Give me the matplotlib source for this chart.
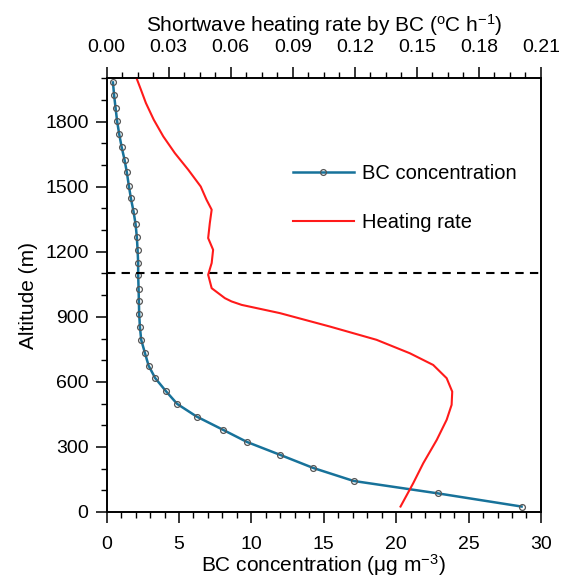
import matplotlib
matplotlib.use("Agg")
import matplotlib.pyplot as plt
from matplotlib.ticker import MultipleLocator

plt.rcParams['font.family'] = ['Liberation Sans', 'DejaVu Sans']
plt.rcParams['mathtext.fontset'] = 'custom'
plt.rcParams['mathtext.rm'] = 'Liberation Sans'

# BC concentration profile (ug m-3) vs altitude (m)
bc_alt = [25, 86, 143, 203, 263, 323, 380, 440, 498, 557, 617, 675, 735, 794,
          854, 914, 972, 1030, 1094, 1150, 1209, 1268, 1328, 1386, 1446, 1503,
          1566, 1624, 1683, 1743, 1801, 1863, 1921, 1981]
bc_conc = [28.66, 22.86, 17.06, 14.27, 12.0, 9.69, 8.01, 6.22, 4.88, 4.10, 3.36,
           2.90, 2.64, 2.39, 2.30, 2.25, 2.23, 2.21, 2.18, 2.18, 2.14, 2.09, 2.00,
           1.86, 1.68, 1.54, 1.40, 1.24, 1.04, 0.87, 0.73, 0.62, 0.52, 0.44]

# shortwave heating rate by BC (oC h-1) vs altitude (m)
hr_alt = [25, 132, 225, 332, 425, 494, 555, 617, 678, 732, 794, 855, 917, 955,
          971, 986, 1032, 1094, 1148, 1209, 1263, 1332, 1394, 1440, 1501, 1578,
          1655, 1732, 1809, 1886, 1950, 2000]
hr_rate = [0.1421, 0.1482, 0.1531, 0.1596, 0.1644, 0.1668, 0.1671, 0.1644,
           0.1579, 0.1466, 0.1305, 0.1080, 0.0838, 0.0653, 0.0604, 0.0572,
           0.0508, 0.0491, 0.0508, 0.0515, 0.0491, 0.0499, 0.0508, 0.0483,
           0.0455, 0.0395, 0.0330, 0.0274, 0.0228, 0.0190, 0.0165, 0.0145]

pbl_height = 1100

fig = plt.figure(figsize=(5.61, 5.77), dpi=100)
ax = fig.add_axes([0.190, 0.1127, 0.7743, 0.7516])
ax2 = ax.twiny()

l1, = ax.plot(bc_conc, bc_alt, color='#17729a', lw=1.8, marker='o', ms=4.2,
              mfc='none', mec='#555555', mew=0.9, label='BC concentration')
l2, = ax2.plot(hr_rate, hr_alt, color='#ff1a1a', lw=1.5, label='Heating rate')
ax.axhline(pbl_height, color='black', lw=1.5, ls=(0, (4, 3)))

ax.set_xlim(0, 30)
ax.set_ylim(0, 2000)
ax2.set_xlim(0, 0.21)

ax.xaxis.set_major_locator(MultipleLocator(5))
ax.xaxis.set_minor_locator(MultipleLocator(1))
ax.yaxis.set_major_locator(MultipleLocator(300))
ax.yaxis.set_minor_locator(MultipleLocator(100))
ax2.xaxis.set_major_locator(MultipleLocator(0.03))
ax2.xaxis.set_minor_locator(MultipleLocator(0.0075))
ax2.xaxis.set_major_formatter(plt.FormatStrFormatter('%.2f'))

for a in (ax, ax2):
    for s in a.spines.values():
        s.set_linewidth(1.2)
    a.tick_params(which='major', direction='out', length=8, width=1.1, labelsize=14)
    a.tick_params(which='minor', direction='out', length=4.3, width=1.0)
ax.tick_params(which='both', right=False, top=False)
ax2.tick_params(which='both', right=False, left=False, bottom=False,
                labelleft=False, labelright=False)
ax.tick_params(axis='x', which='major', pad=9)
ax.tick_params(axis='y', which='major', pad=5)
ax2.tick_params(axis='x', which='major', pad=8)

ax.set_xlabel(r'BC concentration (μg m$\mathregular{^{-3}}$)', fontsize=15, labelpad=0)
ax.set_ylabel('Altitude (m)', fontsize=15, labelpad=5)
ax2.set_xlabel(r'Shortwave heating rate by BC ($\mathregular{^{o}}$C h$\mathregular{^{-1}}$)',
               fontsize=15, labelpad=5)

ax.legend(handles=[l1, l2], loc='upper left', bbox_to_anchor=(0.388, 0.845),
          frameon=False, fontsize=14.5, handlelength=3.0, labelspacing=1.5,
          handletextpad=0.4)

fig.savefig('out.png', dpi=100)
